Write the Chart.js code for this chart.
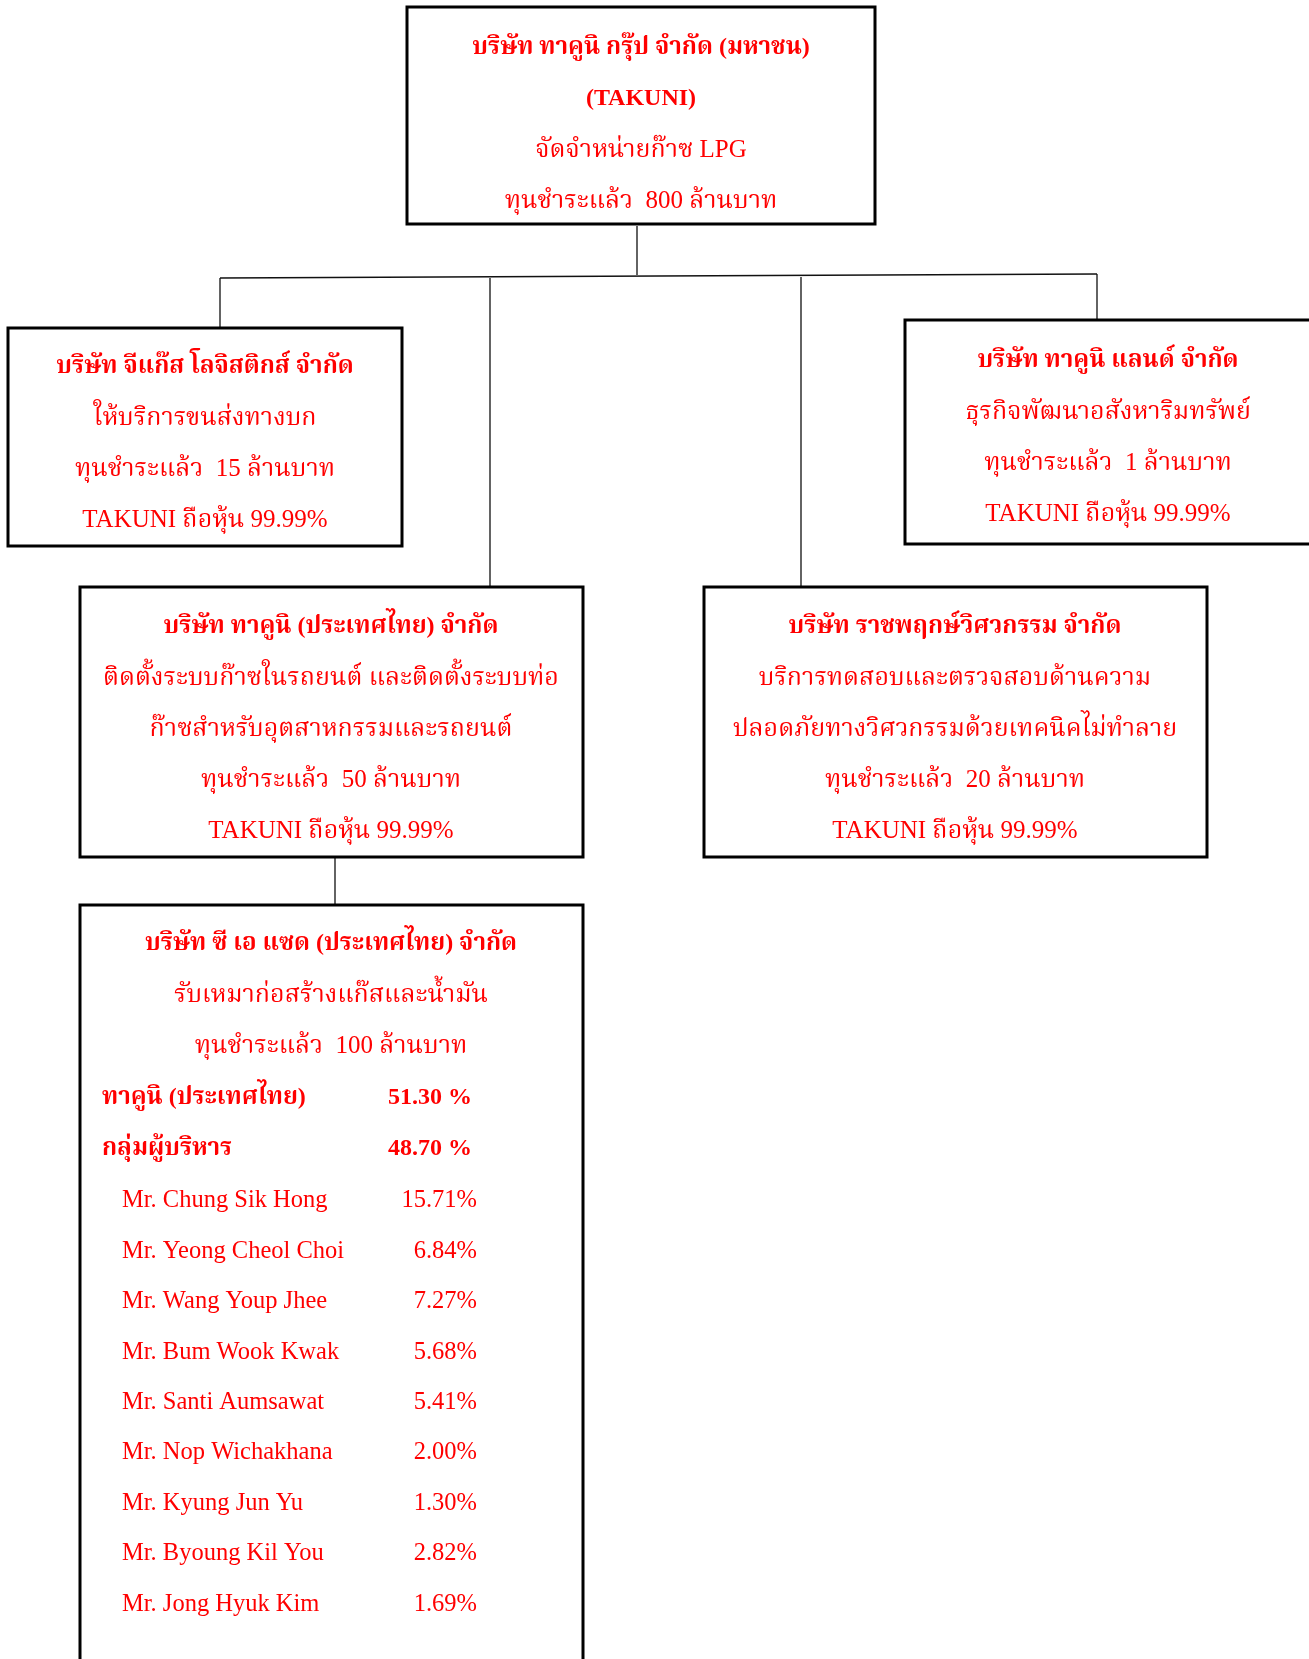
<!DOCTYPE html>
<html>
<head>
<meta charset="utf-8">
<script src="https://cdn.jsdelivr.net/npm/chart.js@4/dist/chart.umd.min.js"></script>
<style>
  html, body { margin: 0; padding: 0; background: #fff; }
  #wrap { width: 1309px; height: 1659px; position: relative; }
</style>
</head>
<body>
<div id="wrap"><canvas id="org"></canvas></div>
<script>
// ---- text content of each box ----
const parentLines = ['บริษัท ทาคูนิ กรุ๊ป จำกัด (มหาชน)', '(TAKUNI)', 'จัดจำหน่ายก๊าซ LPG', 'ทุนชำระแล้ว  800 ล้านบาท'];
const gasLines = ['บริษัท จีแก๊ส โลจิสติกส์ จำกัด', 'ให้บริการขนส่งทางบก', 'ทุนชำระแล้ว  15 ล้านบาท', 'TAKUNI ถือหุ้น 99.99%'];
const landLines = ['บริษัท ทาคูนิ แลนด์ จำกัด', 'ธุรกิจพัฒนาอสังหาริมทรัพย์', 'ทุนชำระแล้ว  1 ล้านบาท', 'TAKUNI ถือหุ้น 99.99%'];
const thaiLines = ['บริษัท ทาคูนิ (ประเทศไทย) จำกัด', 'ติดตั้งระบบก๊าซในรถยนต์ และติดตั้งระบบท่อ', 'ก๊าซสำหรับอุตสาหกรรมและรถยนต์', 'ทุนชำระแล้ว  50 ล้านบาท', 'TAKUNI ถือหุ้น 99.99%'];
const ratchLines = ['บริษัท ราชพฤกษ์วิศวกรรม จำกัด', 'บริการทดสอบและตรวจสอบด้านความ', 'ปลอดภัยทางวิศวกรรมด้วยเทคนิคไม่ทำลาย', 'ทุนชำระแล้ว  20 ล้านบาท', 'TAKUNI ถือหุ้น 99.99%'];
const cazLines = ['บริษัท ซี เอ แซด (ประเทศไทย) จำกัด', 'รับเหมาก่อสร้างแก๊สและน้ำมัน', 'ทุนชำระแล้ว  100 ล้านบาท'];
const cazGroups = ['ทาคูนิ (ประเทศไทย)', 'กลุ่มผู้บริหาร'];
const cazGroupShares = ['51.30 %', '48.70 %'];
const cazHolders = ['Mr. Chung Sik Hong', 'Mr. Yeong Cheol Choi', 'Mr. Wang Youp Jhee', 'Mr. Bum Wook Kwak', 'Mr. Santi Aumsawat', 'Mr. Nop Wichakhana', 'Mr. Kyung Jun Yu', 'Mr. Byoung Kil You', 'Mr. Jong Hyuk Kim'];
const cazShares = ['15.71%', '6.84%', '7.27%', '5.68%', '5.41%', '2.00%', '1.30%', '2.82%', '1.69%'];

// ---- layout (page units, y grows downward) ----
const W = 1309, H = 1659;
const boxes = [
  { x0: 407, y0: 7,   x1: 875,  y1: 224 },   // parent
  { x0: 8,   y0: 328, x1: 402,  y1: 546 },   // G Gas
  { x0: 905, y0: 320, x1: 1320, y1: 544 },   // Takuni Land
  { x0: 80,  y0: 587, x1: 583,  y1: 857 },   // Takuni Thailand
  { x0: 704, y0: 587, x1: 1207, y1: 857 },   // Ratchapruek
  { x0: 80,  y0: 905, x1: 583,  y1: 1680 }   // CAZ
];
const links = [
  [[637, 226], [637, 275]],
  [[220, 278], [1097, 274]],
  [[220, 278], [220, 328]],
  [[490, 278], [490, 587]],
  [[801, 277], [801, 587]],
  [[1097, 274], [1097, 320]],
  [[335, 857], [335, 905]]
];

const RED = '#ff0000';
const THAI = '"Liberation Serif", "Noto Serif Thai", "Noto Sans Thai", "DejaVu Serif", serif';
const SERIF = '"Liberation Serif", "Times New Roman", serif';

const centred = [
  { lines: parentLines, bold: 2, cx: 641, y: 48,  step: 51 },
  { lines: gasLines,    bold: 1, cx: 205, y: 367, step: 51 },
  { lines: landLines,   bold: 1, cx: 1108, y: 361, step: 51 },
  { lines: thaiLines,   bold: 1, cx: 331, y: 627, step: 51 },
  { lines: ratchLines,  bold: 1, cx: 955, y: 627, step: 51 },
  { lines: cazLines,    bold: 1, cx: 331, y: 944, step: 51 }
];

const datasets = [];
boxes.forEach(b => datasets.push({
  data: [{x: b.x0, y: b.y0}, {x: b.x1, y: b.y0}, {x: b.x1, y: b.y1}, {x: b.x0, y: b.y1}, {x: b.x0, y: b.y0}],
  showLine: true, borderColor: '#000', borderWidth: 3, pointRadius: 0,
  borderJoinStyle: 'miter', borderCapStyle: 'square', fill: false
}));
links.forEach(l => datasets.push({
  data: l.map(p => ({x: p[0], y: p[1]})),
  showLine: true, borderColor: '#111', borderWidth: 1.3, pointRadius: 0, fill: false
}));

// draws box texts through the chart scales
const boxText = {
  id: 'boxText',
  afterDatasetsDraw(chart) {
    const {ctx, scales: {x, y}} = chart;
    ctx.save();
    ctx.fillStyle = RED;
    ctx.textBaseline = 'middle';
    ctx.textAlign = 'center';
    centred.forEach(blk => blk.lines.forEach((t, i) => {
      ctx.font = i < blk.bold ? 'bold 24px ' + THAI : '25px ' + THAI;
      ctx.fillText(t, x.getPixelForValue(blk.cx), y.getPixelForValue(blk.y + i * blk.step));
    }));
    ctx.textAlign = 'left';
    cazGroups.forEach((t, i) => {
      const py = y.getPixelForValue(1098 + i * 51);
      ctx.font = 'bold 24px ' + THAI;
      ctx.fillText(t, x.getPixelForValue(102), py);
      ctx.fillText(cazGroupShares[i], x.getPixelForValue(388), py);
    });
    cazHolders.forEach((t, i) => {
      const py = y.getPixelForValue(1201 + i * 50.4);
      ctx.font = '24.5px ' + SERIF;
      ctx.fillText(t, x.getPixelForValue(122), py);
      ctx.textAlign = 'right';
      ctx.fillText(cazShares[i], x.getPixelForValue(477), py);
      ctx.textAlign = 'left';
    });
    ctx.restore();
  }
};

new Chart(document.getElementById('org'), {
  type: 'scatter',
  data: { datasets },
  options: {
    responsive: true, maintainAspectRatio: false, animation: false,
    layout: { padding: 0 },
    scales: {
      x: { type: 'linear', min: 0, max: W, display: false },
      y: { type: 'linear', min: 0, max: H, reverse: true, display: false }
    },
    plugins: { legend: { display: false }, tooltip: { enabled: false } }
  },
  plugins: [boxText]
});
</script>
</body>
</html>
